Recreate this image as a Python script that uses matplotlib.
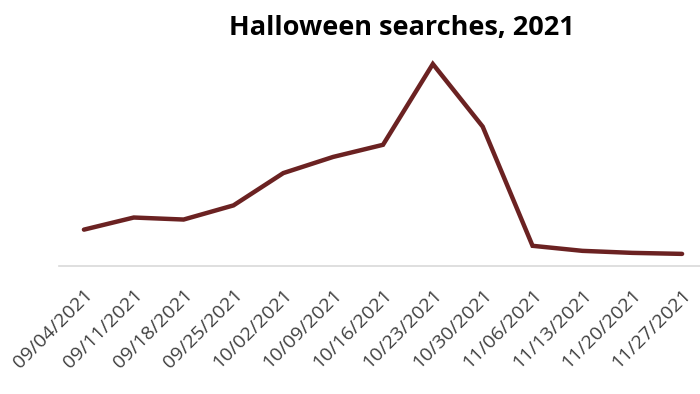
import matplotlib
matplotlib.use("Agg")
import matplotlib.pyplot as plt

# weekly search interest (peak = 100)
weeks = ["09/04/2021", "09/11/2021", "09/18/2021", "09/25/2021", "10/02/2021",
         "10/09/2021", "10/16/2021", "10/23/2021", "10/30/2021", "11/06/2021",
         "11/13/2021", "11/20/2021", "11/27/2021"]
searches = [18, 24, 23, 30, 46, 54, 60, 100, 69, 10, 7.5, 6.5, 6]

plt.rcParams['font.family'] = ['Open Sans', 'DejaVu Sans']

fig = plt.figure(figsize=(7, 3.94), dpi=100)
# axes spans 59..707 px horizontally, baseline at y=266 px
ax = fig.add_axes([59 / 700, 1 - 266 / 394, 648 / 700, (266 - 40) / 394])

ax.plot(range(len(weeks)), searches, color="#6B2222", linewidth=3.2,
        solid_capstyle="round", solid_joinstyle="miter")

ax.set_xlim(-0.5, len(weeks) - 0.5)
ax.set_ylim(0, 100 * (266 - 40) / (266 - 64))
ax.set_xticks(range(len(weeks)))
ax.set_xticklabels(weeks, rotation=45, ha="right", rotation_mode="anchor",
                   fontsize=14, color="#404040")
ax.tick_params(axis="x", length=0, pad=14)
ax.set_yticks([])
for side in ["top", "right", "left"]:
    ax.spines[side].set_visible(False)
ax.spines["bottom"].set_color("#D9D9D9")
ax.spines["bottom"].set_linewidth(1.2)

fig.text(402 / 700, 1 - 28 / 394, "Halloween searches, 2021", ha="center",
         va="center", fontsize=19.5, fontweight="bold", color="black")

fig.savefig("out.png", dpi=100)
